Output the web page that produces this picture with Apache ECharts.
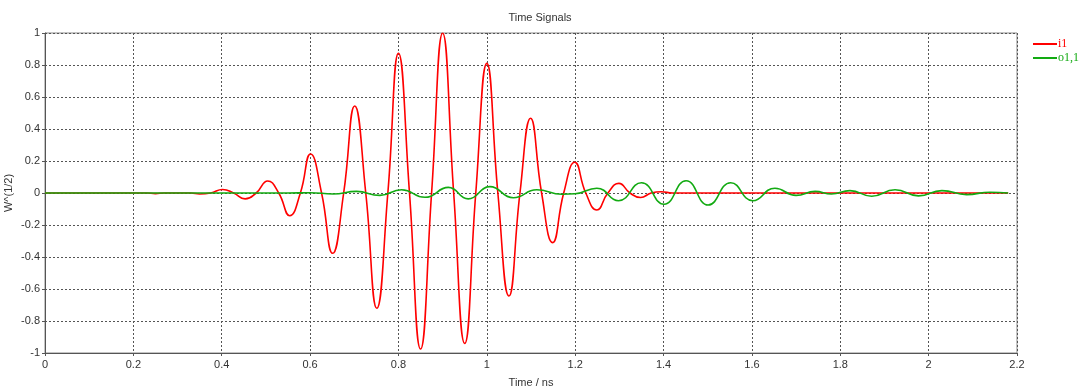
<!DOCTYPE html>
<html>
<head>
<meta charset="utf-8">
<script src="https://cdn.jsdelivr.net/npm/echarts@6/dist/echarts.min.js"></script>
<style>
html,body{margin:0;padding:0;background:#fff;}
#c{width:1080px;height:392px;}
</style>
</head>
<body>
<div id="c"></div>
<script>
// Series "i1" (red): [time ns, value] read at peaks and zero crossings
var seriesI1 = [
  [0,0],[0.2,0],[0.23,0],[0.25,-0.004],[0.27,0],[0.33,0],[0.35,-0.006],[0.375,0],
  [0.402,0.022],[0.427,0],[0.453,-0.037],[0.478,0],[0.504,0.075],[0.529,0],
  [0.554,-0.142],[0.578,0],[0.601,0.244],[0.626,0],[0.651,-0.377],[0.676,0],
  [0.701,0.544],[0.726,0],[0.751,-0.72],[0.776,0],[0.8,0.873],[0.825,0],
  [0.85,-0.975],[0.875,0],[0.9,0.998],[0.925,0],[0.95,-0.94],[0.975,0],
  [1.0,0.81],[1.025,0],[1.05,-0.644],[1.075,0],[1.099,0.467],[1.124,0],
  [1.149,-0.31],[1.174,0],[1.199,0.192],[1.224,0],[1.249,-0.106],[1.274,0],
  [1.299,0.06],[1.324,0],[1.348,-0.028],[1.372,0],[1.395,0.008],[1.42,0],
  [1.5,0],[2.18,0]
];
// Series "o1,1" (green)
var seriesO11 = [
  [0,0],[0.55,0],[0.6,0.002],[0.652,-0.006],[0.705,0.01],[0.758,-0.015],
  [0.807,0.02],[0.86,-0.027],[0.913,0.035],[0.958,-0.037],[1.007,0.04],
  [1.06,-0.03],[1.113,0.02],[1.17,-0.008],[1.2,-0.005],[1.249,0.03],
  [1.298,-0.048],[1.35,0.064],[1.401,-0.07],[1.451,0.077],[1.501,-0.075],
  [1.552,0.064],[1.602,-0.048],[1.652,0.03],[1.70,-0.015],[1.743,0.01],
  [1.78,-0.006],[1.822,0.015],[1.871,-0.02],[1.924,0.02],[1.977,-0.018],
  [2.03,0.015],[2.086,-0.01],[2.139,0.005],[2.18,0]
];
var seriesNames = ['i1','o1,1'];
var seriesColors = ['#ff0000','#12aa12'];
var xTicks = {min:0, max:2.2, interval:0.2};
var yTicks = {min:-1, max:1, interval:0.2};

var chart = echarts.init(document.getElementById('c'), null, {renderer:'canvas'});
var labelFont = {fontFamily:'Liberation Sans', fontSize:11, color:'#333'};
var gridLine = {show:true, lineStyle:{color:'#555', type:[2,2], width:1}};
chart.setOption({
  animation:false,
  title:{text:'Time Signals', left:'center', top:7,
    textStyle:{fontFamily:'Liberation Sans', fontSize:11, fontWeight:'normal', color:'#333'}},
  grid:{left:45, right:63, top:33, bottom:39, containLabel:false, outerBoundsMode:'none',
    show:true, borderColor:'#888', borderWidth:1},
  legend:{
    orient:'vertical', left:1028, top:33, itemWidth:24, itemHeight:2, itemGap:2, icon:'rect',
    textStyle:{fontFamily:'Liberation Serif', fontSize:12, lineHeight:12, padding:[0,0,0,-4]},
    data:[
      {name:seriesNames[0], textStyle:{color:seriesColors[0]}},
      {name:seriesNames[1], textStyle:{color:seriesColors[1]}}
    ]
  },
  xAxis:{
    type:'value', min:xTicks.min, max:xTicks.max, interval:xTicks.interval,
    name:'Time / ns', nameLocation:'middle', nameGap:24, nameMoveOverlap:false,
    nameTextStyle:{fontFamily:'Liberation Sans', fontSize:11, color:'#333'},
    axisLine:{show:true, onZero:false, lineStyle:{color:'#555'}},
    axisTick:{show:true, length:3, lineStyle:{color:'#555'}},
    axisLabel:Object.assign({margin:6, formatter:function(v){return String(+v.toFixed(1));}}, labelFont),
    splitLine:gridLine
  },
  yAxis:{
    type:'value', min:yTicks.min, max:yTicks.max, interval:yTicks.interval,
    name:'W^(1/2)', nameLocation:'middle', nameGap:31, nameRotate:90, nameMoveOverlap:false,
    nameTextStyle:{fontFamily:'Liberation Sans', fontSize:11, color:'#333'},
    axisLine:{show:true, lineStyle:{color:'#555'}},
    axisTick:{show:true, length:3, lineStyle:{color:'#555'}},
    axisLabel:Object.assign({margin:5, formatter:function(v){return String(+v.toFixed(1));}}, labelFont),
    splitLine:gridLine
  },
  series:[
    {name:seriesNames[0], type:'line', data:seriesI1, smooth:0.5, showSymbol:false,
     lineStyle:{color:seriesColors[0], width:1.6}, itemStyle:{color:seriesColors[0]}, z:2},
    {name:seriesNames[1], type:'line', data:seriesO11, smooth:0.5, showSymbol:false,
     lineStyle:{color:seriesColors[1], width:1.6}, itemStyle:{color:seriesColors[1]}, z:3}
  ]
});
</script>
</body>
</html>
